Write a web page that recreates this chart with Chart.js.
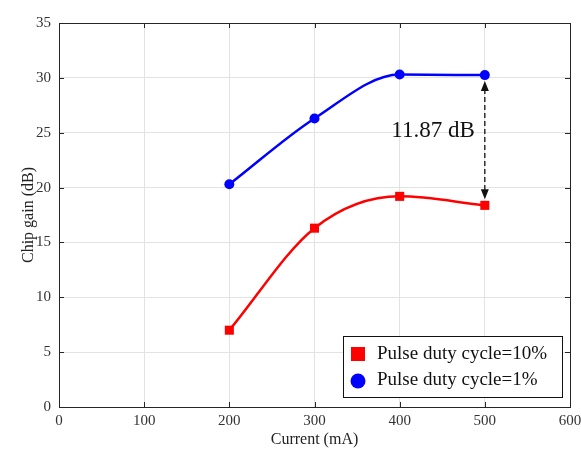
<!DOCTYPE html>
<html>
<head>
<meta charset="utf-8">
<script src="https://cdn.jsdelivr.net/npm/chart.js@4/dist/chart.umd.min.js"></script>
<style>
  html, body { margin: 0; padding: 0; background: #fff; }
  #wrap { position: relative; width: 581px; height: 452px; }
</style>
</head>
<body>
<div id="wrap"><canvas id="gain"></canvas></div>
<script>
// data
const currents = [200, 300, 400, 500]
const gainDuty10 = [7.0, 16.3, 19.2, 18.38]
const gainDuty1 = [20.3, 26.3, 30.3, 30.25]
const seriesNames = ['Pulse duty cycle=10%', 'Pulse duty cycle=1%']
const gapText = '11.87 dB'
const gapAt = 500

const serif = "'Liberation Serif', 'DejaVu Serif', serif"

function toPoints(xs, ys){
    return xs.map((x, i) => ({x: x, y: ys[i]}))
}

// frame, inward ticks, dashed arrow and the boxed legend
const extras = {
    id: 'extras',
    afterDraw(chart){
        const ctx = chart.ctx
        const a = chart.chartArea
        const xs = chart.scales.x
        const ys = chart.scales.y
        ctx.save()

        // box around the axes
        ctx.strokeStyle = '#262626'
        ctx.lineWidth = 1
        ctx.strokeRect(a.left + 0.5, a.top + 0.5, a.right - a.left, a.bottom - a.top)
        ctx.beginPath()
        xs.ticks.forEach(t => {
            const px = Math.round(xs.getPixelForValue(t.value)) + 0.5
            ctx.moveTo(px, a.bottom); ctx.lineTo(px, a.bottom - 5)
            ctx.moveTo(px, a.top); ctx.lineTo(px, a.top + 5)
        })
        ys.ticks.forEach(t => {
            const py = Math.round(ys.getPixelForValue(t.value)) + 0.5
            ctx.moveTo(a.left, py); ctx.lineTo(a.left + 5, py)
            ctx.moveTo(a.right, py); ctx.lineTo(a.right - 5, py)
        })
        ctx.stroke()

        // gap arrow between the two series at the last current
        const i = currents.indexOf(gapAt)
        const ax = xs.getPixelForValue(gapAt)
        const yTop = ys.getPixelForValue(gainDuty1[i]) + 6
        const yBot = ys.getPixelForValue(gainDuty10[i]) - 6
        ctx.strokeStyle = '#111'
        ctx.fillStyle = '#111'
        ctx.lineWidth = 1.3
        ctx.setLineDash([5, 3])
        ctx.beginPath()
        ctx.moveTo(ax, yTop + 8); ctx.lineTo(ax, yBot - 8)
        ctx.stroke()
        ctx.setLineDash([])
        ctx.beginPath()
        ctx.moveTo(ax, yTop); ctx.lineTo(ax - 4, yTop + 10); ctx.lineTo(ax + 4, yTop + 10); ctx.closePath()
        ctx.moveTo(ax, yBot); ctx.lineTo(ax - 4, yBot - 10); ctx.lineTo(ax + 4, yBot - 10); ctx.closePath()
        ctx.fill()

        ctx.font = '23px ' + serif
        ctx.fillStyle = '#111'
        ctx.textAlign = 'right'
        ctx.textBaseline = 'middle'
        ctx.fillText(gapText, ax - 10, ys.getPixelForValue(25.2))

        // legend box, lower right
        const lx = a.right - 227, ly = a.bottom - 71, lw = 219, lh = 61
        ctx.fillStyle = '#fff'
        ctx.fillRect(lx, ly, lw, lh)
        ctx.strokeStyle = '#111'
        ctx.lineWidth = 1
        ctx.strokeRect(lx + 0.5, ly + 0.5, lw, lh)
        ctx.fillStyle = '#ff0000'
        ctx.fillRect(lx + 8, ly + 11, 14, 14)
        ctx.fillStyle = '#0000ff'
        ctx.beginPath()
        ctx.arc(lx + 15, ly + 45, 7.5, 0, Math.PI * 2)
        ctx.fill()
        ctx.font = '19px ' + serif
        ctx.fillStyle = '#111'
        ctx.textAlign = 'left'
        ctx.fillText(seriesNames[0], lx + 34, ly + 18)
        ctx.fillText(seriesNames[1], lx + 34, ly + 44)
        ctx.restore()
    }
}

const data_gain = {
    datasets: [{
        label: seriesNames[0],
        data: toPoints(currents, gainDuty10),
        borderColor: '#ff0000',
        backgroundColor: '#ff0000',
        pointStyle: 'rect',
        pointRadius: 6.4,
        pointBorderWidth: 0,
        borderWidth: 2.5,
        cubicInterpolationMode: 'monotone'
    },
    {
        label: seriesNames[1],
        data: toPoints(currents, gainDuty1),
        borderColor: '#0000ff',
        backgroundColor: '#0000ff',
        pointStyle: 'circle',
        pointRadius: 5,
        pointBorderWidth: 0,
        borderWidth: 2.5,
        cubicInterpolationMode: 'monotone'
    }
]}

const options_gain = {
    responsive: false,
    animation: false,
    layout: { padding: { top: 23, right: 11, bottom: 0, left: 0 } },
    plugins: { legend: { display: false }, tooltip: { enabled: false } },
    scales: {
        x: {
            type: 'linear',
            min: 0, max: 600,
            ticks: { stepSize: 100, padding: 5, color: '#333', font: { family: serif, size: 15 } },
            grid: { color: '#e3e3e3', drawTicks: false },
            border: { color: '#262626' },
            title: { display: true, text: 'Current (mA)', color: '#222', padding: { top: 0, bottom: 3 }, font: { family: serif, size: 16 } },
            afterFit(scale){ scale.height = 45; scale.paddingLeft = 0; scale.paddingRight = 0 }
        },
        y: {
            min: 0, max: 35,
            ticks: { stepSize: 5, padding: 8, color: '#333', font: { family: serif, size: 15 } },
            grid: { color: '#e3e3e3', drawTicks: false },
            border: { color: '#262626' },
            title: { display: true, text: 'Chip gain (dB)', color: '#222', padding: { top: 19, bottom: 0 }, font: { family: serif, size: 16 } },
            afterFit(scale){ scale.width = 59; scale.paddingTop = 0; scale.paddingBottom = 0 }
        }
    }
}

const canvas = document.getElementById('gain')
canvas.width = 581
canvas.height = 452
new Chart(canvas, { type: 'line', data: data_gain, options: options_gain, plugins: [extras] })
</script>
</body>
</html>
